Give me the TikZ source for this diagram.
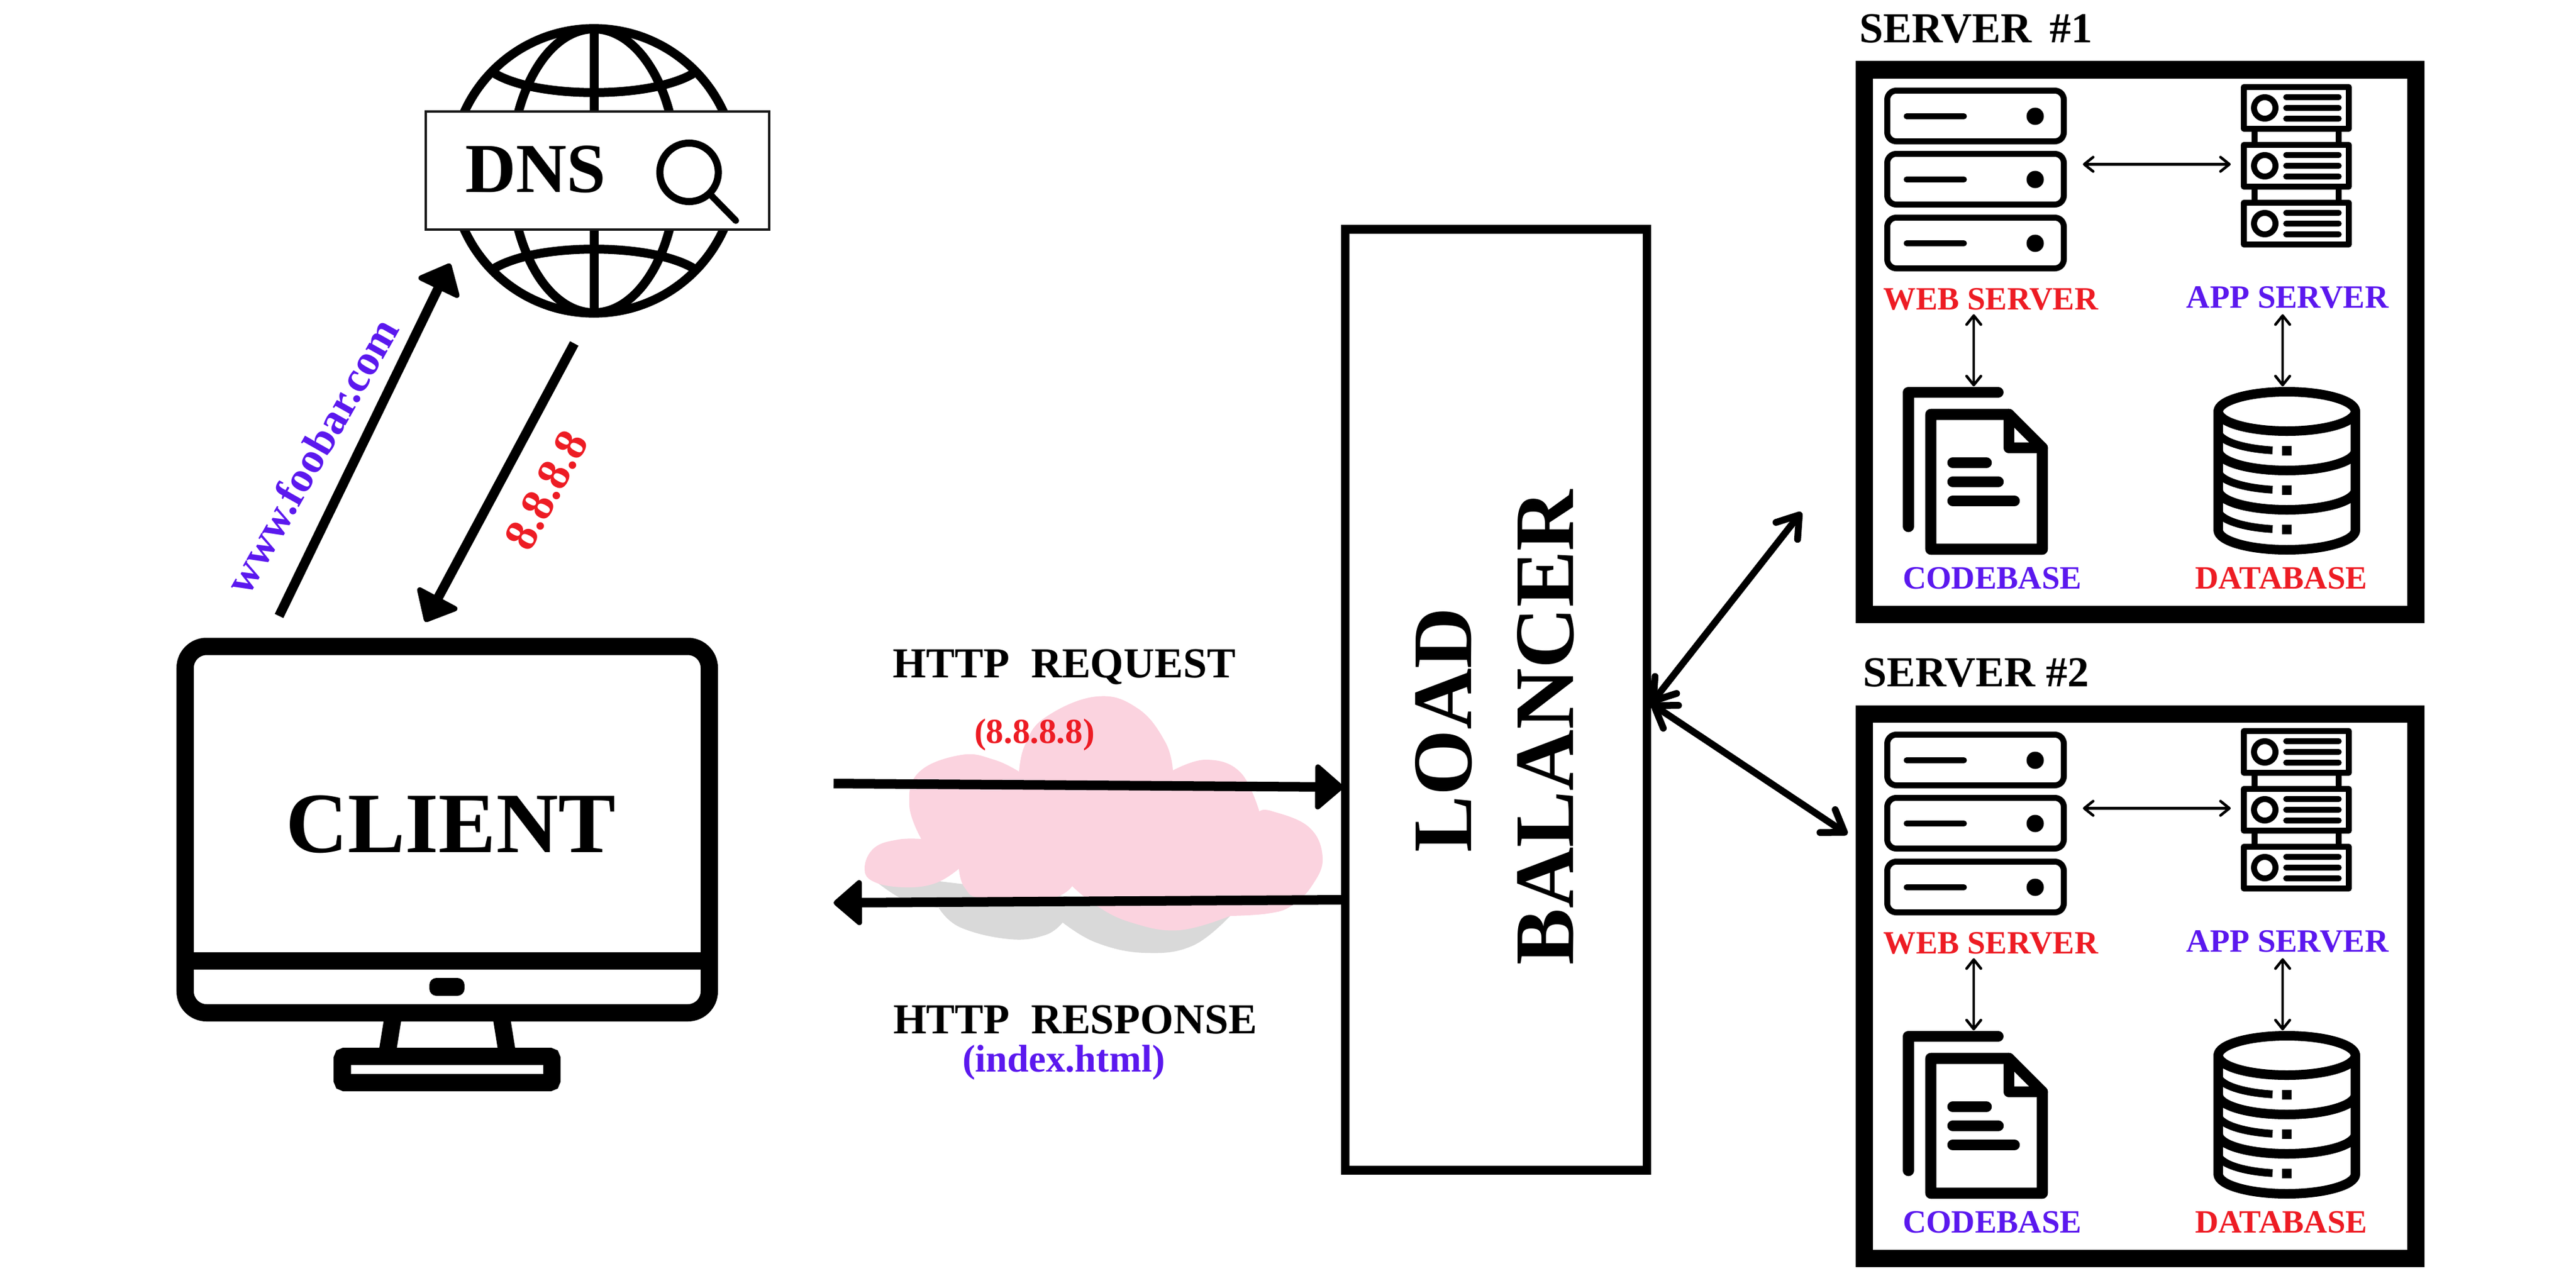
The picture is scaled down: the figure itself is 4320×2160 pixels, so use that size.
\documentclass[tikz,border=0pt]{standalone}
\usepackage{fontspec}
\setmainfont{Liberation Serif}
\usetikzlibrary{arrows.meta}
\definecolor{lblred}{HTML}{ED1C24}
\definecolor{lblpurple}{HTML}{5B18EE}
\definecolor{cloudpink}{HTML}{FBD3DF}
\definecolor{cloudgray}{HTML}{D9D9D9}
\newcommand{\lblsize}[1]{\fontsize{#1}{#1}\selectfont\bfseries}
\tikzset{
  fatline/.style={line width=0.29cm},
  iconline/.style={line width=0.10cm, line cap=round, line join=round},
  codeline/.style={line width=0.186cm, line cap=round, line join=round},
  dbline/.style={line width=0.16cm, line cap=round, line join=round},
  globeline/.style={line width=0.15cm},
  bigarrow/.style={line width=0.16cm, -{Triangle[round,line width=0.09cm,length=0.5cm,width=0.84cm]}},
  linkarrow/.style={line width=0.115cm, {Straight Barb[round,length=0.34cm,width=0.46cm]}-{Straight Barb[round,length=0.34cm,width=0.46cm]}},
  thinarrow/.style={line width=0.045cm, {Straight Barb[round,length=0.15cm,width=0.24cm]}-{Straight Barb[round,length=0.15cm,width=0.24cm]}},
  smalllbl/.style={font=\lblsize{15.5}},
  titlelbl/.style={font=\lblsize{20.4}}
}

\begin{document}
\begin{tikzpicture}[x=0.01cm, y=-0.01cm]
    \useasboundingbox (0,0) rectangle (4320,2160);

    % globe and search bar
    \draw[globeline] (996,286.5) circle[radius=2.385cm];
    \draw[globeline] (996,286.5) ellipse[x radius=139, y radius=238];
    \draw[globeline] (996,48) -- (996,525);
    \draw[globeline] (829,123) .. controls (900,166) and (1092,166) .. (1163,123);
    \draw[globeline] (829,450) .. controls (900,407) and (1092,407) .. (1163,450);
    \node[draw=black!90, fill=white, line width=0.038cm, minimum width=5.76cm, minimum height=1.975cm, inner sep=0pt] (dnsbar) at (1002,286) {};
    \node[font=\lblsize{33.5}] (dns) at (898,284) {DNS};
    \draw[line width=0.12cm] (1155.6,289) circle[radius=0.49cm];
    \draw[line width=0.11cm, line cap=round] (1194,329) -- (1234,370);

    % client screen
    \draw[fatline, rounded corners=0.36cm] (310.5,1084) rectangle (1189.5,1698.5);
    \draw[fatline] (310.5,1611) -- (1189.5,1611);
    \fill[rounded corners=0.12cm] (720,1640) rectangle (779,1670);
    \draw[fatline] (660,1700) -- (648,1775);
    \draw[fatline] (840,1700) -- (852,1775);
    \draw[fatline, rounded corners=0.04cm] (574,1771.5) rectangle (925.5,1815.5);
    \node[font=\lblsize{41}] (client) at (756,1382) {CLIENT};

    % dns arrows
    \coordinate (clientout) at (468,1033);
    \coordinate (dnsin) at (755,442);
    \coordinate (dnsout) at (963,576);
    \coordinate (clientin) at (713,1043);
    \draw[bigarrow] (clientout) -- (dnsin);
    \draw[bigarrow] (dnsout) -- (clientin);
    \node[font=\lblsize{20.6}, color=lblpurple, rotate=60.5] (url) at (522,764) {www.foobar.com};
    \node[font=\lblsize{22}, color=lblred, rotate=62] (ip) at (916,822) {8.8.8.8};

    % cloud
    \fill[cloudgray] plot[smooth, tension=0.7] coordinates {(1450,1463) (1512,1507) (1574,1522)}
      -- plot[smooth, tension=0.7] coordinates {(1574,1522) (1610,1555) (1693,1575) (1753,1568) (1782,1547)}
      -- plot[smooth, tension=0.7] coordinates {(1782,1547) (1839,1581) (1920,1598) (2000,1586) (2063,1536)}
      -- cycle;
    \fill[cloudpink] plot[smooth, tension=0.7] coordinates {(1709,1294) (1719,1249) (1753,1203) (1839,1168) (1908,1188) (1954,1244) (1967,1292)}
      -- plot[smooth, tension=0.7] coordinates {(1967,1292) (2023,1274) (2080,1295) (2112,1361)}
      -- plot[smooth, tension=0.7] coordinates {(2112,1361) (2132,1360) (2195,1387) (2218,1438) (2201,1484) (2166,1519) (2126,1532) (2063,1536)}
      -- plot[smooth, tension=0.7] coordinates {(2063,1536) (1977,1560) (1897,1547) (1839,1519) (1798,1486)}
      -- plot[smooth, tension=0.7] coordinates {(1798,1486) (1759,1507) (1650,1507) (1618,1489) (1608,1457)}
      -- plot[smooth, tension=0.7] coordinates {(1608,1457) (1569,1481) (1518,1488) (1466,1479) (1450,1456) (1466,1422) (1506,1408) (1545,1407)}
      -- plot[smooth, tension=0.7] coordinates {(1545,1407) (1525,1351) (1541,1295) (1612,1266) (1667,1274) (1709,1294)}
      -- cycle;

    % load balancer
    \node[draw, line width=0.145cm, minimum width=5.06cm, minimum height=15.77cm, inner sep=0pt] (lb) at (2509,1173.5) {};
    \node[font=\lblsize{40.4}, rotate=90] (lbload) at (2421,1224) {LOAD};
    \node[font=\lblsize{40.4}, rotate=90] (lbbal) at (2592,1220) {BALANCER};

    % http arrows
    \coordinate (reqstart) at (1398,1314);
    \coordinate (reqend) at (2253,1320);
    \coordinate (respstart) at (2249,1509);
    \coordinate (respend) at (1398,1514);
    \draw[bigarrow] (reqstart) -- (reqend);
    \draw[bigarrow] (respstart) -- (respend);
    \node[titlelbl] (req) at (1785,1119) {HTTP~~REQUEST};
    \node[font=\lblsize{16.8}, color=lblred] (reqip) at (1735,1232) {(8.8.8.8)};
    \node[titlelbl] (resp) at (1803,1710) {HTTP~~RESPONSE};
    \node[font=\lblsize{18.4}, color=lblpurple] (respfile) at (1784,1782) {(index.html)};

    % the two servers
    \foreach \s/\dy/\ttl in {1/0/{SERVER\hspace{0.42em}\#1}, 2/1080/{SERVER \#2}}
    {\begin{scope}[shift={(0,\dy)}]
      \node[titlelbl] (title\s) at (3314,48) {\ttl};
      \draw[fatline] (3126.5,117) rectangle (4051,1030.5);
      % web server
      \foreach \y in {152,258,365}
      {\draw[iconline, rounded corners=0.15cm] (3165,\y) rectangle (3461,\y+85);
       \draw[iconline] (3197.5,\y+43) -- (3293.5,\y+43);
       \fill (3413,\y+43) circle[radius=0.145cm];
      }
      % app server
      \foreach \y in {146,243,340}
      {\draw[iconline, line cap=butt] (3763,\y) rectangle (3939,\y+70);
       \draw[iconline] (3798,\y+35) circle[radius=0.18cm];
       \foreach \dt in {-18,0,18}
         \draw[iconline] (3834,\y+35+\dt) -- (3922,\y+35+\dt);
      }
      \foreach \y in {217,314}
      {\draw[iconline, line cap=butt] (3781,\y) -- (3781,\y+26);
       \draw[iconline, line cap=butt] (3922,\y) -- (3922,\y+26);
      }
      % code base
      \draw[codeline] (3350.7,658) -- (3200.5,658) -- (3200.5,883);
      \draw[codeline] (3238,695) -- (3369,695) -- (3425,751) -- (3425,921) -- (3238,921) -- cycle;
      \draw[codeline] (3369,695) -- (3369,751) -- (3425,751);
      \draw[codeline] (3275,776) -- (3331,776);
      \draw[codeline] (3275,808) -- (3351,808);
      \draw[codeline] (3275,840) -- (3378,840);
      % data base
      \draw[dbline] (3835,690) ellipse[x radius=115, y radius=33];
      \draw[dbline] (3720,690) -- (3720,889) arc[start angle=180, end angle=0, x radius=115, y radius=33] -- (3950,690);
      \foreach \y in {756,822}
        \draw[dbline] (3720,\y) arc[start angle=180, end angle=0, x radius=115, y radius=33];
      \foreach \y in {723,789,855}
      {\draw[line width=0.13cm] (3720,\y) arc[start angle=180, end angle=102, x radius=115, y radius=33];
       \fill (3827,\y+25) rectangle (3843,\y+41);
      }
      % labels
      \node[smalllbl, color=lblred] (weblbl\s) at (3338.5,502) {WEB SERVER};
      \node[smalllbl, color=lblpurple] (applbl\s) at (3836,498.6) {APP SERVER};
      \node[smalllbl, color=lblpurple] (codelbl\s) at (3341,970) {CODEBASE};
      \node[smalllbl, color=lblred] (dblbl\s) at (3825.5,970) {DATABASE};
      % inner links
      \coordinate (webend\s) at (3493,275.5);
      \coordinate (append\s) at (3741,275.5);
      \coordinate (webup\s) at (3310,527);
      \coordinate (codeup\s) at (3310,648);
      \coordinate (appup\s) at (3828,527);
      \coordinate (dbup\s) at (3828,648);
      \draw[thinarrow] (webend\s) -- (append\s);
      \draw[thinarrow] (webup\s) -- (codeup\s);
      \draw[thinarrow] (appup\s) -- (dbup\s);
    \end{scope}}

    % balancer links
    \coordinate (lbport) at (2769,1180);
    \coordinate (srvone) at (3021,859);
    \coordinate (srvtwo) at (3098,1399);
    \draw[linkarrow] (lbport) -- (srvone);
    \draw[linkarrow] (lbport) -- (srvtwo);
\end{tikzpicture}
\end{document}
